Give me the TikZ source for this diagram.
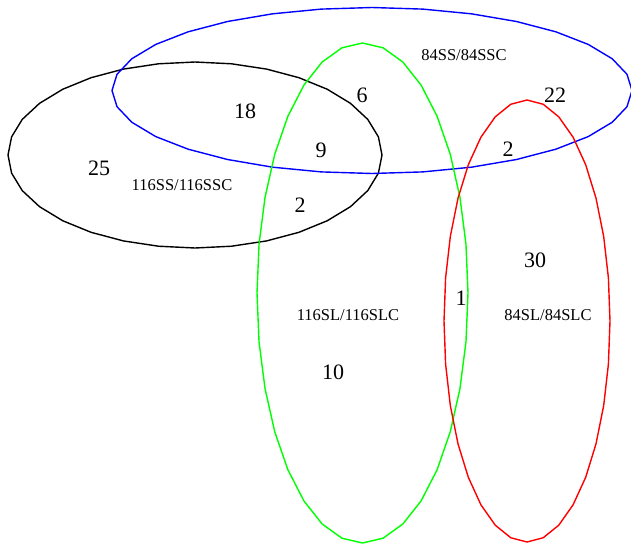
\documentclass[tikz,border=0pt]{standalone}
\usepackage{fontspec}
\setmainfont{Liberation Serif}
\begin{document}
\begin{tikzpicture}[x=1pt,y=-1pt,
  setline/.style={line width=1.4pt, line join=round},
  count/.style={anchor=base, inner sep=0pt, font=\fontsize{22}{22}\selectfont},
  setname/.style={anchor=base, inner sep=0pt, font=\fontsize{16.5}{16.5}\selectfont}]
\useasboundingbox[fill=white] (0,0) rectangle (631,544);

% the four sets, drawn as polygonal ellipses
\draw[setline, black]
  plot[domain=0:360, samples=33] ({195+187*cos(\x)},{155+93*sin(\x)}) -- cycle;
\draw[setline, blue]
  plot[domain=0:360, samples=33] ({372+260*cos(\x)},{90.5+83*sin(\x)}) -- cycle;
\draw[setline, green]
  plot[domain=0:360, samples=33] ({362.5+105.5*cos(\x)},{293+250*sin(\x)}) -- cycle;
\draw[setline, red]
  plot[domain=0:360, samples=33] ({527+83*cos(\x)},{321+221*sin(\x)}) -- cycle;

% set names
\node[setname] (nSS84)  at (464,60)  {84SS/84SSC};
\node[setname] (nSS116) at (182,190) {116SS/116SSC};
\node[setname] (nSL116) at (348,320) {116SL/116SLC};
\node[setname] (nSL84)  at (548,320) {84SL/84SLC};

% region counts
\node[count] (c18) at (245,118) {18};
\node[count] (c25) at (99,175)  {25};
\node[count] (c2a) at (300,212) {2};
\node[count] (c9)  at (321,157) {9};
\node[count] (c6)  at (362,102) {6};
\node[count] (c22) at (555,102) {22};
\node[count] (c2b) at (508,156) {2};
\node[count] (c30) at (535,267) {30};
\node[count] (c1)  at (461,305) {1};
\node[count] (c10) at (333,379) {10};
\end{tikzpicture}
\end{document}
